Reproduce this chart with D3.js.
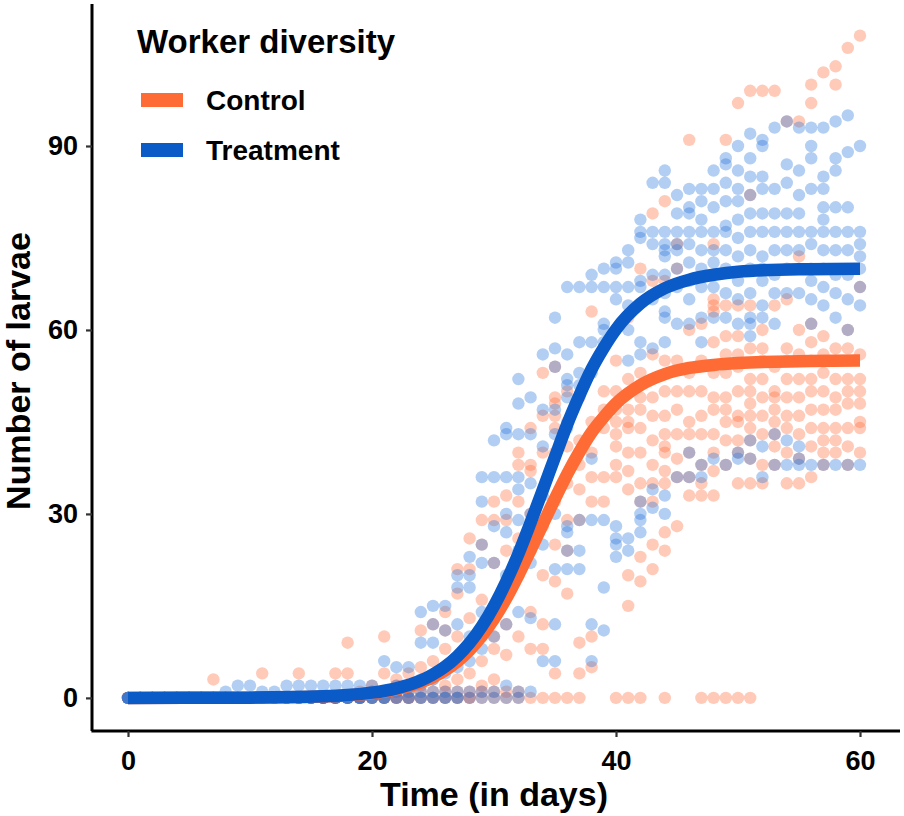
<!DOCTYPE html>
<html><head><meta charset="utf-8">
<script src="https://cdn.jsdelivr.net/npm/d3@7"></script>
<style>
body{margin:0;background:#fff}
text{font-family:"Liberation Sans",Arial,sans-serif;font-weight:bold;fill:#000}
</style>
</head><body>
<svg id="chart" width="904" height="816"></svg>
<script>
// ---------- data ----------
const xTicks = [0, 20, 40, 60];
const yTicks = [0, 30, 60, 90];
const seriesNames = ["Control", "Treatment"];
const lineColors = ["#FF6B35", "#0A5AC8"];
const pointColors = ["#FF6B3B", "#2A78DA"];
const legendTitle = "Worker diversity";
const xTitle = "Time (in days)";
const yTitle = "Number of larvae";

// observed larvae counts, one list per day (day 0 .. 60)
const controlByDay = [
  [0,0,0,0,0],[0,0,0,0,0],[0,0,0,0,0],[0,0,0,0,0],[0,0,0,0,0],[0,0,0,0,0],[0,0,0,0,0],
  [0,0,0,0,3],[0,0,0,0,0],[0,0,0,0,0],[0,0,0,0,0],[0,0,0,0,4],[0,0,0,0,0],[0,0,0,0,0],
  [0,0,0,0,4],[0,0,0,0,0],[0,0,0,0,0],[0,0,0,0,4],[0,0,0,0,4,9],[0,0,0,0,1],
  [0,0,0,1,2],[0,0,0,1,4,10],[0,0,0,1,2,3],[0,0,0,1,2,4],[0,0,1,2,5,11],
  [0,0,1,3,6,12],[0,0,1,2,5,8,11,14],[0,0,1,3,6,10,17,21],[0,0,1,4,8,13,21,26],
  [0,1,2,6,10,16,25,29],[0,1,3,8,10,14,22,29,32],[0,1,7,12,18,24,29,33],
  [0,1,10,20,26,32,38,40],[0,8,14,24,30,37,38,44],[0,8,12,20,28,34,40,46,53],
  [0,4,19,25,32,40,44,46,48,49,54],[0,17,24,29,35,41,45,50],[0,4,9,29,34,38,42,49],
  [5,10,32,36,40,45,63],[32,36,44,47,50],[0,36,38,41,43,45,47,50,55],
  [0,15,20,34,37,40,44,45,47,52,62],[0,19,23,32,35,40,44,47,49,53,70],[21,25,32,35,38,42,46,49,56,68,79],
  [0,24,27,35,37,40,41,43,46,50,55,68,81],[28,36,39,43,47,50,55,70,74],[33,36,40,43,45,50,53,60,91],
  [0,33,35,38,43,46,50,55,61],[0,33,37,40,43,47,49,53,58,63,64,65,69,74],[0,38,42,45,47,49,53,56,59,64,91],
  [0,35,40,42,45,46,50,54,56,59,64,97],[0,35,39,42,44,46,48,50,52,57,64,82,99],[35,38,43,46,49,52,55,57,60,99],
  [38,41,43,45,47,49,50,54,64,99],[35,40,44,46,49,52,55,57,65,94],[35,39,43,46,49,52,56,60,72,94],
  [36,41,44,47,50,52,55,58,61,97,100],[38,40,42,44,47,50,53,56,59,102],[40,42,44,47,49,52,55,57,100,103],
  [38,41,44,48,50,52,57,60,106],[40,44,45,48,50,52,56,67,108]
];
const treatmentByDay = [
  [0,0,0,0,0],[0,0,0,0,0],[0,0,0,0,0],[0,0,0,0,0],[0,0,0,0,0],[0,0,0,0,0],[0,0,0,0,0],
  [0,0,0,0,0],[0,0,0,0,1],[0,0,0,0,2],[0,0,0,0,2],[0,0,0,0,1],[0,0,0,0,1],[0,0,0,0,2],
  [0,0,0,0,2],[0,0,0,0,2],[0,0,0,0,2],[0,0,0,0,2],[0,0,0,0,2],[0,0,0,0,2],
  [0,0,0,1,2],[0,0,0,1,6],[0,0,1,2,5],[0,0,1,2,5],[0,0,1,3,9,14],
  [0,0,1,3,9,12,15],[0,0,1,4,11,15],[0,0,1,5,12,18,20],[0,1,6,10,18,20,23],
  [0,1,8,14,22,25,32,36],[0,1,10,15,22,28,36,42],[0,2,12,20,27,30,36,43,44],
  [0,1,14,24,29,34,36,43,48,52],[1,13,22,30,35,43,49],[6,25,33,41,47,56],
  [6,12,21,30,43,47,54,57,62],[21,24,27,28,44,49,51,52,56,67],[21,24,29,51,53,58,67],
  [6,12,29,39,53,58,67,69],[11,18,29,58,60,61,67,70],[23,25,26,28,65,67,70,71],
  [24,26,55,60,64,67,71,73],[27,29,30,32,56,58,67,68,75,76,78],[31,34,57,65,69,74,76,84],
  [30,33,58,62,63,66,69,72,73,74,76,84,86],[36,61,67,70,73,74,76,79,82],[36,40,61,65,68,71,74,76,79,80,83],
  [36,38,58,62,67,70,73,76,78,81,83],[39,62,67,71,73,76,80,83,86],[38,62,66,70,73,76,77,81,84,87,88],
  [39,40,61,65,68,72,75,78,81,83,86,90],[39,42,59,61,62,66,70,73,76,79,82,85,88,92],
  [36,41,62,64,68,70,72,76,79,83,85,90,91],[38,43,61,66,69,73,76,79,83,93],[38,42,66,70,73,76,79,84,87,94],
  [38,39,41,66,70,73,76,79,82,86,93],[38,61,65,68,70,74,76,83,88,90,93],[38,64,67,70,73,76,78,80,83,85,93],
  [38,62,66,69,73,76,80,86,88,94],[38,60,65,69,73,76,80,89,95],[38,64,67,70,72,74,76,90]
];

// fitted growth curves at these days
const fitDays      = [0,10,16,18,20,22,24,25,26,27,28,29,30,31,32,33,34,35,36,37,38,39,40,42,44,46,48,50,55,60];
const controlFit   = [0,0.03,0.22,0.41,0.75,1.38,2.51,3.37,4.5,5.95,7.8,10.1,12.9,16.2,20.0,24.1,28.3,32.5,36.5,40.1,43.3,45.8,48.0,51.0,52.8,53.8,54.3,54.6,54.9,55];
const treatmentFit = [0,0.04,0.25,0.46,0.85,1.56,2.83,3.83,5.1,6.8,8.94,11.66,15.0,18.97,23.5,28.6,33.9,39.3,44.6,49.3,53.6,57.1,60.1,64.3,66.8,68.2,69.0,69.5,69.9,70];

// ---------- drawing ----------
const svg = d3.select("#chart");
const x = d3.scaleLinear().domain([-3, 63]).range([91.4, 896.6]);
const y = d3.scaleLinear().domain([-5.4, 113.4]).range([731, 2.5]);

const byDay = [controlByDay, treatmentByDay];
const fits = [controlFit, treatmentFit];

// points
byDay.forEach((arr, s) => {
  const pts = [];
  arr.forEach((vals, day) => vals.forEach(v => pts.push([day, v])));
  svg.append("g").selectAll("circle").data(pts).join("circle")
    .attr("cx", d => x(d[0])).attr("cy", d => y(d[1])).attr("r", 6.2)
    .attr("fill", pointColors[s]).attr("fill-opacity", 0.36);
});

// fitted curves
const line = d3.line().x(d => x(d[0])).y(d => y(d[1])).curve(d3.curveMonotoneX);
fits.forEach((f, s) => {
  svg.append("path").datum(fitDays.map((d, i) => [d, f[i]]))
    .attr("d", line).attr("fill", "none").attr("stroke", lineColors[s])
    .attr("stroke-width", 12.5).attr("stroke-linecap", "butt");
});

// axes
const gx = svg.append("g").attr("transform", "translate(0,731)")
  .call(d3.axisBottom(x).tickValues(xTicks).tickSize(6).tickPadding(14));
const gy = svg.append("g").attr("transform", "translate(92,0)")
  .call(d3.axisLeft(y).tickValues(yTicks).tickSize(6).tickPadding(8));
[gx, gy].forEach(g => {
  g.select(".domain").attr("stroke", "#000").attr("stroke-width", 3);
  g.selectAll(".tick line").attr("stroke", "#333").attr("stroke-width", 2.2);
  g.selectAll(".tick text").style("font-size", "27px").style("font-weight", "bold")
    .attr("fill", "#000");
});
gx.select(".domain").attr("d", "M91.4,0H900");
gy.select(".domain").attr("d", "M0,4V731");

// axis titles
svg.append("text").attr("x", 494).attr("y", 806).attr("text-anchor", "middle")
  .style("font-size", "34px").text(xTitle);
svg.append("text").attr("transform", "translate(30,371) rotate(-90)")
  .attr("text-anchor", "middle").style("font-size", "34px").text(yTitle);

// legend
svg.append("text").attr("x", 137).attr("y", 53).style("font-size", "33px").text(legendTitle);
seriesNames.forEach((n, i) => {
  svg.append("rect").attr("x", 141).attr("y", 93 + i * 50).attr("width", 42).attr("height", 14)
    .attr("fill", lineColors[i]);
  svg.append("text").attr("x", 206).attr("y", 110 + i * 50).style("font-size", "28px").text(n);
});
</script>
</body></html>
